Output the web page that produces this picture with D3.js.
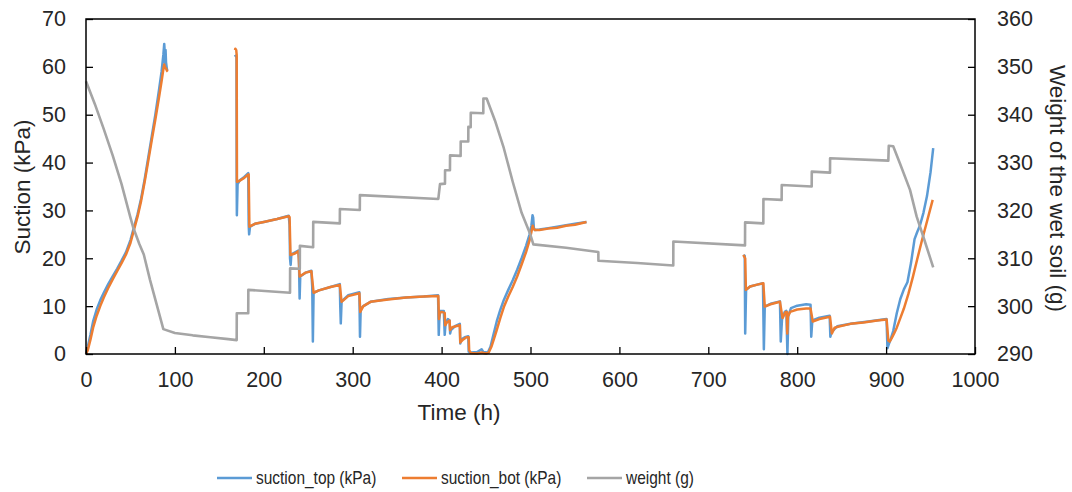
<!DOCTYPE html>
<html><head><meta charset="utf-8">
<script src="https://cdn.jsdelivr.net/npm/d3@7"></script>
<style>
html,body{margin:0;padding:0;background:#fff;}
svg text{font-family:"Liberation Sans",Arial,sans-serif;fill:#262626;}
</style></head>
<body><svg id="c" width="1072" height="492"></svg>
<script>
// ---- data (time h, value) ; null = gap ----
const xTicks = [0,100,200,300,400,500,600,700,800,900,1000];
const yLeftTicks = [0,10,20,30,40,50,60,70];
const yRightTicks = [290,300,310,320,330,340,350,360];
const seriesNames = ["suction_top (kPa)","suction_bot (kPa)","weight (g)"];

const suctionTop = [
[0,0],[2,1.5],[5,4],[8,6.8],[12,9.3],[16,11.2],[20,12.8],[25,14.6],[30,16.2],[35,17.8],[40,19.5],[45,21.3],[50,23.8],[54,26.5],[58,29.2],[62,32.5],[66,36.5],[70,41],[74,45.5],[78,50],[82,55],[85,59],[87,62.5],[88,64.8],[88.6,63],[89,60.5],[89.5,63.5],[90,61],[91,59.5],[92,59.3],[92.5,null],
[167.5,62.5],[169.3,62],[169.5,36],[169.7,29],[170.5,35.5],[173,36.3],[178,37],[182.5,37.8],[183,27],[183.5,25],[184.5,26.6],[190,27.2],[200,27.6],[215,28.2],[228,28.9],[229,27],[229.5,20],[230.2,18.6],[231,20.8],[238.8,21.6],[239.5,20],[240.3,11.6],[241,16.2],[247,17],[253.5,17.4],[254.5,14],[255.2,2.6],[256,12.8],[262,13.3],[275,14],[285.5,14.6],[286,10],[286.6,6.4],[287.5,11],[295,12.3],[307.5,12.9],[308.2,3.6],[309,9.5],[312,10],[320,10.9],[340,11.5],[360,11.8],[380,12],[396,12.3],[396.8,4],[397.5,7.5],[398.5,9],[402.5,9],[403.5,4],[404.5,6.5],[407,7.3],[409,7],[409.6,4.3],[410.5,5],[415,5.8],[420.5,6.3],[421,2.2],[422,3],[426,3.5],[430,3.7],[430.5,0.5],[433,0.3],[440,0.4],[445,1],[447,0.4],[452,0.3],[455,1.5],[458,3.8],[462,6.8],[466,9.2],[470,11.3],[475,13.4],[480,15.4],[485,17.6],[490,20],[495,22.6],[499,25],[501,26.8],[502.3,29],[503,28.5],[503.8,26.3],[505,25.9],[510,26],[520,26.3],[530,26.6],[540,26.9],[550,27.2],[563,27.6],[564,null],
[739.4,20.7],[741,20.5],[741.5,4.3],[742.5,13.4],[747,14.1],[755,14.5],[761.5,14.8],[762.5,1],[763.5,9.9],[770,10.5],[780.6,11],[781.5,2.6],[783,7.5],[786,8.8],[787.8,9],[789,0],[790,8],[793,9.6],[800,10.1],[810,10.4],[815,10.3],[815.8,3.6],[817,7],[825,7.6],[836.5,8],[837.3,3.6],[838.5,4.5],[845,5.8],[860,6.3],[880,6.8],[900.5,7.3],[901.5,1.2],[903,2],[905,3],[908,4.8],[912,8.5],[916,11.5],[920,13.5],[924,15],[928,19],[932,24],[935,25.5],[938,26.8],[942,29.5],[946,33],[950,38],[953,43]
];

const suctionBot = [
[0,0],[2,0.8],[5,3],[8,5.5],[12,8],[16,10],[20,11.8],[25,13.8],[30,15.6],[35,17.3],[40,19],[45,20.8],[50,23.2],[54,26],[58,28.7],[62,32],[66,36],[70,40.3],[74,44.7],[78,49],[82,53.5],[85,57],[87,59.5],[88,60.5],[89,59.8],[90,59.7],[91,59.2],[92,59],[92.5,null],
[167.6,63.5],[168,63.8],[169,63.5],[169.5,62.5],[169.8,36],[173,36.2],[178,36.8],[182.5,37.5],[183,37.5],[183.8,26.6],[190,27.2],[200,27.6],[215,28.2],[228,28.8],[229,28.6],[230,20.7],[235,21],[239,21.5],[240.3,16.2],[247,17],[253.5,17.3],[256,12.8],[262,13.3],[275,14],[285.5,14.4],[287.5,10.9],[295,12.1],[307.5,12.7],[308.5,8.8],[312,10],[320,10.9],[340,11.4],[360,11.8],[380,12],[396.3,12.1],[397,7.3],[398,8.6],[400,8.8],[403.5,8.6],[404,6],[406,6.6],[409,7],[409.5,5],[412,5.6],[416,5.8],[420.5,6],[421,2.4],[424,3],[428,3.5],[430.5,3.5],[431,0.8],[433,0.2],[440,0.1],[445,0.3],[450,0.1],[453,0.3],[456,1.5],[459,3.2],[462,5],[466,7.5],[470,9.8],[475,12],[480,14],[485,16.2],[490,18.7],[495,21.3],[499,23.8],[501,25.5],[502.5,26.8],[503.5,26.2],[505,25.9],[510,25.9],[520,26.2],[530,26.4],[540,26.8],[550,27],[563,27.6],[564,null],
[739.4,20.7],[741.5,20],[742.3,13.4],[747,14.1],[755,14.5],[761.9,14.8],[763.5,9.9],[770,10.4],[780.6,10.9],[783.5,7.5],[787,8.8],[788.3,8.8],[788.8,4.3],[789.5,7.8],[792,8.8],[800,9.3],[810,9.5],[815,9.5],[817.5,6.8],[825,7.3],[836.9,7.8],[839,4.3],[842,5.5],[848,5.8],[860,6.3],[874.5,6.6],[890,7],[900.6,7.2],[902.5,2.8],[904,2.6],[906,3.2],[909,4.3],[912,5.5],[916,7.5],[920,9.5],[925,12.5],[930,16],[935,19.8],[940,23.5],[945,27],[952.4,32.2]
];

const weight = [
[0,347],[10,342.2],[20,337],[30,331.5],[40,325.5],[50,318.5],[53,316.5],[60,313],[65,310.8],[72,305.5],[80,300],[87,295.2],[100,294.4],[120,293.9],[140,293.5],[160,293.1],[169.5,292.9],
[169.6,298.5],[182.5,298.5],[182.6,303.4],[229.5,302.8],[229.6,307.9],[240.5,307.8],[240.6,312.6],[255.5,312.3],[255.6,317.6],[285.5,317.3],[285.6,320.3],[308,320.1],[308.1,323.2],[396.3,322.4],[398.2,325.5],[403.8,325.6],[403.9,328.4],[409.4,328.4],[409.5,331.5],[421.4,331.4],[421.5,334.4],[430,334.4],[430.1,337.5],[432.7,337.4],[432.8,340.4],[446.9,340.3],[447,343.4],[450.7,343.4],[460,338.8],[470,333],[480,326],[490,319.5],[499.4,315.2],[503.2,312.9],[540,312.2],[576.3,311.3],[576.4,309.5],[620,309],[660.6,308.5],[660.7,313.5],[741.3,312.7],[741.4,317.5],[761.9,317.3],[762,322.4],[782.5,322.2],[782.6,325.3],[816.3,325],[816.4,328.1],[836.9,327.9],[837,330.9],[902.5,330.4],[903,333.5],[908,333.4],[915.6,329.8],[926.9,324.3],[934.4,318.7],[941.9,314.5],[953,308.1]
];

// ---- layout ----
const svg = d3.select("#c");
const L=86, R=975, T=19, B=354;
const x = d3.scaleLinear().domain([0,1000]).range([L,R]);
const yL = d3.scaleLinear().domain([0,70]).range([B,T]);
const yR = d3.scaleLinear().domain([290,360]).range([B,T]);
const colors = ["#5B9BD5","#ED7D31","#A5A5A5"];
const SX = 0.86;   // legend text compression
const FS = 21.5;   // tick font size
const FT = 22.5;   // title font size

// lines
const lineL = d3.line().defined(d=>d[1]!==null).x(d=>x(d[0])).y(d=>yL(d[1]));
const lineR = d3.line().defined(d=>d[1]!==null).x(d=>x(d[0])).y(d=>yR(d[1]));
svg.append("path").datum(suctionTop).attr("d",lineL).attr("fill","none").attr("stroke",colors[0]).attr("stroke-width",2.5).attr("stroke-linejoin","round");
svg.append("path").datum(suctionBot).attr("d",lineL).attr("fill","none").attr("stroke",colors[1]).attr("stroke-width",2.5).attr("stroke-linejoin","round");
svg.append("path").datum(weight).attr("d",lineR).attr("fill","none").attr("stroke",colors[2]).attr("stroke-width",2.6).attr("stroke-linejoin","round");

// axes (ticks inside)
function styleAxis(g){
  g.select(".domain").remove();
  g.selectAll(".tick line").attr("stroke","#000").attr("stroke-width",1.3);
  g.selectAll(".tick text").attr("font-size",FS).attr("fill","#262626");
}
const gx = svg.append("g").attr("transform",`translate(0,${B})`)
  .call(d3.axisBottom(x).tickValues(xTicks).tickFormat(d3.format("d")).tickSizeInner(-7).tickSizeOuter(0).tickPadding(18));
styleAxis(gx);

const gl = svg.append("g").attr("transform",`translate(${L},0)`)
  .call(d3.axisLeft(yL).tickValues(yLeftTicks).tickFormat(d3.format("d")).tickSizeInner(-7).tickSizeOuter(0).tickPadding(20));
styleAxis(gl);

const gr = svg.append("g").attr("transform",`translate(${R},0)`)
  .call(d3.axisRight(yR).tickValues(yRightTicks).tickFormat(d3.format("d")).tickSizeInner(-7).tickSizeOuter(0).tickPadding(22));
styleAxis(gr);

// frame
svg.append("rect").attr("x",L).attr("y",T).attr("width",R-L).attr("height",B-T)
  .attr("fill","none").attr("stroke","#000").attr("stroke-width",1.5);

// titles
svg.append("text").attr("transform",`translate(22.5,187) rotate(-90)`)
  .attr("text-anchor","middle").attr("dominant-baseline","central").attr("font-size",FT).text("Suction (kPa)");
svg.append("text").attr("transform",`translate(1057,188.5) rotate(90)`)
  .attr("text-anchor","middle").attr("dominant-baseline","central").attr("font-size",FT).text("Weight of the wet soil (g)");
svg.append("text").attr("transform",`translate(459,412)`)
  .attr("text-anchor","middle").attr("dominant-baseline","central").attr("font-size",FT).text("Time (h)");

// legend
const legX = [217, 402, 587];
const LY = 478;
const leg = svg.append("g");
seriesNames.forEach((n,i)=>{
  leg.append("line").attr("x1",legX[i]).attr("x2",legX[i]+35).attr("y1",LY).attr("y2",LY)
    .attr("stroke",colors[i]).attr("stroke-width",2.5);
  leg.append("text").attr("transform",`translate(${legX[i]+39},${LY}) scale(${SX},1)`)
    .attr("dominant-baseline","central").attr("font-size",18).text(n);
});
</script></body></html>
